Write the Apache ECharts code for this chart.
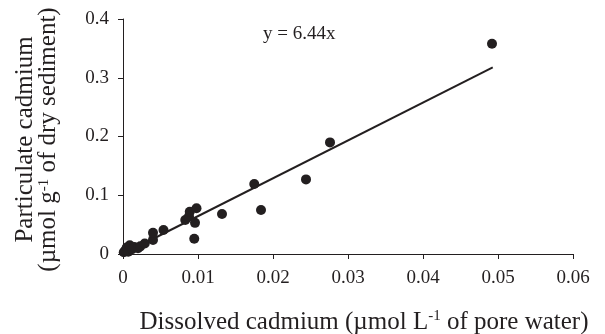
<!DOCTYPE html>
<html>
<head>
<meta charset="utf-8">
<script src="https://cdn.jsdelivr.net/npm/echarts@6/dist/echarts.min.js"></script>
<style>
  html, body { margin: 0; padding: 0; background: #fff; }
  #chart { width: 605px; height: 334px; }
</style>
</head>
<body>
<div id="chart"></div>
<script>
// Dissolved (pore water) vs particulate cadmium measurements
const dissolvedCd = [
  0.0001, 0.0003, 0.0005, 0.0007, 0.0009, 0.0012, 0.0015, 0.0020, 0.0023,
  0.0029, 0.0040, 0.0040, 0.0054,
  0.0083, 0.0088, 0.0089, 0.0096, 0.0098, 0.0095,
  0.0132, 0.0175, 0.0184, 0.0244, 0.0276, 0.0492
];
const particulateCd = [
  0.003, 0.006, 0.011, 0.004, 0.015, 0.008, 0.012, 0.010, 0.013,
  0.018, 0.024, 0.036, 0.041,
  0.058, 0.064, 0.072, 0.053, 0.078, 0.026,
  0.068, 0.119, 0.075, 0.127, 0.190, 0.358
];

// Regression through the origin
const slope = 6.44;
const fitRange = [0, 0.0493];
const equationLabel = 'y = 6.44x';
const equationAt = [0.0235, 0.3745];

const xTicks = ['0', '0.01', '0.02', '0.03', '0.04', '0.05', '0.06'];
const yTicks = ['0', '0.1', '0.2', '0.3', '0.4'];

const points = dissolvedCd.map((x, i) => [x, particulateCd[i]]);
const fitLine = fitRange.map(x => [x, slope * x]);

const serif = '"Liberation Serif", "DejaVu Serif", serif';
const ink = '#231f20';

const chart = echarts.init(document.getElementById('chart'), null, { renderer: 'canvas' });
chart.setOption({
  animation: false,
  backgroundColor: '#fff',
  grid: { left: 123, top: 19, right: 32, bottom: 80, outerBoundsMode: 'none', containLabel: false },
  xAxis: {
    type: 'value', min: 0, max: 0.06, interval: 0.01,
    axisLine: { show: true, lineStyle: { color: ink, width: 1 } },
    axisTick: { show: true, length: 5, lineStyle: { color: ink } },
    splitLine: { show: false },
    axisLabel: {
      margin: 15, color: ink, fontFamily: serif, fontSize: 19,
      formatter: (v) => xTicks[Math.round(v / 0.01)]
    },
    name: '{b|Dissolved cadmium (µmol L}{s|-1}{b| of pore water)}',
    nameLocation: 'middle', nameGap: 55,
    nameTextStyle: {
      padding: [0, 0, 0, 32],
      rich: {
        b: { fontFamily: serif, fontSize: 25, color: ink, lineHeight: 26 },
        s: { fontFamily: serif, fontSize: 15, color: ink, verticalAlign: 'top', lineHeight: 26 }
      }
    }
  },
  yAxis: {
    type: 'value', min: 0, max: 0.4, interval: 0.1,
    axisLine: { show: true, lineStyle: { color: ink, width: 1 } },
    axisTick: { show: true, length: 5, lineStyle: { color: ink } },
    splitLine: { show: false },
    axisLabel: {
      margin: 14, color: ink, fontFamily: serif, fontSize: 19,
      formatter: (v) => yTicks[Math.round(v / 0.1)]
    },
    name: '{b|Particulate cadmium}\n{b|(µmol g}{s|-1}{b| of dry sediment)}',
    nameLocation: 'middle', nameGap: 63, nameRotate: 90,
    nameTextStyle: {
      padding: [0, 6, 0, 0],
      rich: {
        b: { fontFamily: serif, fontSize: 25, color: ink, lineHeight: 23 },
        s: { fontFamily: serif, fontSize: 15, color: ink, verticalAlign: 'top', lineHeight: 23 }
      }
    }
  },
  series: [
    {
      type: 'line',
      data: fitLine,
      symbol: 'none',
      lineStyle: { color: ink, width: 2 },
      z: 2,
      markPoint: {
        symbol: 'circle',
        symbolSize: 1,
        itemStyle: { color: 'rgba(0,0,0,0)' },
        data: [{ coord: equationAt, value: equationLabel }],
        label: {
          show: true, formatter: equationLabel, position: 'inside',
          color: ink, fontFamily: serif, fontSize: 19
        }
      }
    },
    {
      type: 'scatter',
      data: points,
      symbol: 'circle',
      symbolSize: 10,
      itemStyle: { color: ink, opacity: 1 },
      z: 3
    }
  ]
});
</script>
</body>
</html>
